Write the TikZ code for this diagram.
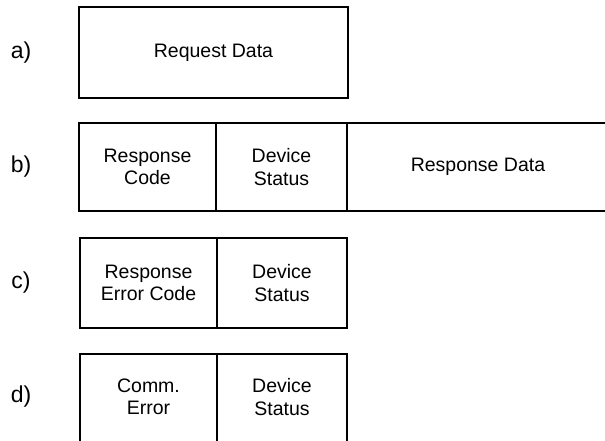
\documentclass[tikz,border=0pt]{standalone}
\usepackage{fontspec}
\setmainfont{Liberation Sans}
\begin{document}
\begin{tikzpicture}[x=1pt,y=-1pt,
  cell/.style={draw=black,line width=1.3pt,rectangle,inner sep=0pt,
    align=center,font=\fontsize{19.5}{22.5}\selectfont},
  rowlabel/.style={inner sep=0pt,font=\fontsize{23}{26}\selectfont},
  celltext/.style={inner sep=0pt,align=center,font=\fontsize{19.5}{22.5}\selectfont}]
\useasboundingbox (0,0) rectangle (605,441);
\clip (0,0) rectangle (605,441);

% a) request frame
\node[rowlabel] (la) at (21,53) {a)};
\node[cell,minimum width=269pt,minimum height=91pt] (a1) at (213.5,52.5) {Request Data};

% b) normal response frame
\node[rowlabel] (lb) at (21,167) {b)};
\node[cell,minimum width=137pt,minimum height=88pt] (b1) at (147.5,167) {Response\\Code};
\node[cell,minimum width=131pt,minimum height=88pt] (b2) at (281.5,167) {Device\\Status};
\node[cell,minimum width=283pt,minimum height=88pt] (b3) at (488.5,167) {};
\node[celltext] (b3t) at (478,167) {Response Data};

% c) error response frame
\node[rowlabel] (lc) at (21,283) {c)};
\node[cell,minimum width=137pt,minimum height=90pt] (c1) at (148.5,283) {};
\node[celltext] (c1t) at (148.5,283) {Response\\Error Code};
\node[cell,minimum width=130pt,minimum height=90pt] (c2) at (282,283) {};
\node[celltext] (c2t) at (282,283) {Device\\Status};

% d) communication error frame
\node[rowlabel] (ld) at (21,397) {d)};
\node[cell,minimum width=137pt,minimum height=120pt] (d1) at (148.5,414) {};
\node[celltext] (d1t) at (148.5,397) {Comm.\\Error};
\node[cell,minimum width=130pt,minimum height=120pt] (d2) at (282,414) {};
\node[celltext] (d2t) at (282,397) {Device\\Status};
\end{tikzpicture}
\end{document}
